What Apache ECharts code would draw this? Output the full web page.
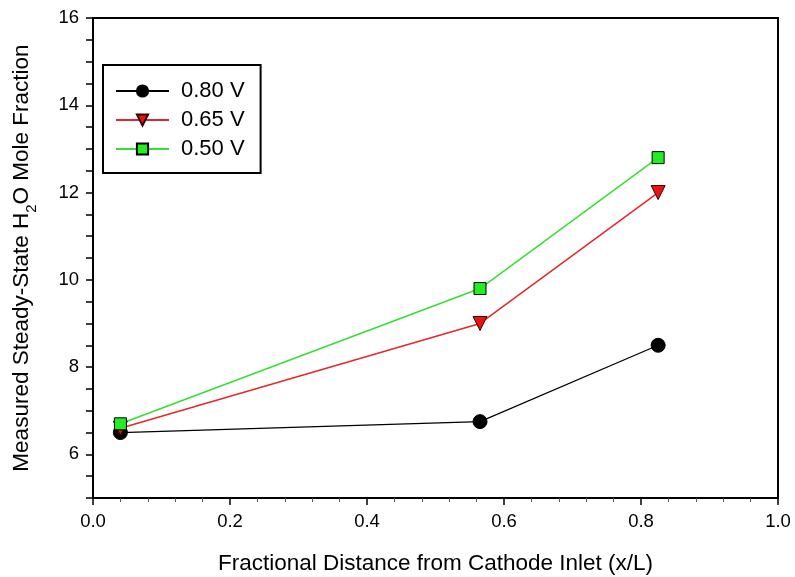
<!DOCTYPE html>
<html>
<head>
<meta charset="utf-8">
<script src="https://cdn.jsdelivr.net/npm/echarts@6/dist/echarts.min.js"></script>
<style>
  html, body { margin: 0; padding: 0; background: #fff; }
  #chart { width: 795px; height: 577px; }
</style>
</head>
<body>
<div id="chart"></div>
<script>
// positions along the cathode (x/L)
var xPos = [0.04, 0.565, 0.825];
// H2O mole fraction per cell voltage
var v080 = [6.5, 6.75, 8.5];
var v065 = [6.6, 9.0, 12.0];
var v050 = [6.7, 9.8, 12.8];
var seriesNames = ['0.80 V', '0.65 V', '0.50 V'];

function pairs(ys) {
    return ys.map(function (y, i) { return [xPos[i], y]; });
}

var font = 'Liberation Sans, Arial, sans-serif';
var chart = echarts.init(document.getElementById('chart'));

var option = {
    animation: false,
    backgroundColor: '#fff',
    grid: {
        left: 93,
        right: 17,
        top: 18,
        bottom: 79,
        outerBoundsMode: 'none',
        show: true,
        borderColor: '#000',
        borderWidth: 2
    },
    legend: {
        left: 103,
        top: 65,
        orient: 'vertical',
        padding: [15, 16, 13, 12],
        borderColor: '#000',
        borderWidth: 2,
        itemWidth: 53,
        itemHeight: 14,
        itemGap: 7,
        textStyle: {
            fontFamily: font,
            fontSize: 22,
            color: '#000',
            padding: [0, 0, 0, 7]
        },
        data: seriesNames
    },
    xAxis: {
        type: 'value',
        min: 0,
        max: 1,
        interval: 0.2,
        name: 'Fractional Distance from Cathode Inlet (x/L)',
        nameLocation: 'middle',
        nameGap: 54,
        nameTextStyle: { fontFamily: font, fontSize: 22.5, color: '#000' },
        axisLine: { onZero: false, lineStyle: { color: '#000', width: 2 } },
        axisTick: { show: true, inside: false, length: 7, lineStyle: { color: '#000', width: 1.5 } },
        minorTick: { show: true, splitNumber: 5, length: 4, lineStyle: { color: '#555', width: 1 } },
        splitLine: { show: false },
        axisLabel: {
            fontFamily: font, fontSize: 18.5, color: '#000', margin: 14,
            formatter: function (v) { return v.toFixed(1); }
        }
    },
    yAxis: {
        type: 'value',
        min: 5,
        max: 16,
        interval: 1,
        name: '{t|Measured Steady-State H}{s|2}{t|O Mole Fraction}',
        nameLocation: 'middle',
        nameGap: 60,
        nameTextStyle: {
            fontFamily: font, fontSize: 22.5, color: '#000',
            rich: {
                t: { fontFamily: font, fontSize: 22.5, color: '#000', lineHeight: 28, verticalAlign: 'bottom' },
                s: { fontFamily: font, fontSize: 15, color: '#000', lineHeight: 28, verticalAlign: 'bottom', padding: [0, 0, -6, 0] }
            }
        },
        axisLine: { onZero: false, lineStyle: { color: '#000', width: 2 } },
        axisTick: { show: true, inside: false, length: 7, lineStyle: { color: '#000', width: 1.5 } },
        minorTick: { show: true, splitNumber: 2, length: 7, lineStyle: { color: '#000', width: 1.5 } },
        splitLine: { show: false },
        axisLabel: {
            fontFamily: font, fontSize: 18.5, color: '#000', margin: 14,
            formatter: function (v) { return v % 2 === 0 ? String(v) : ''; }
        }
    },
    series: [
        {
            name: seriesNames[0],
            type: 'line',
            data: pairs(v080),
            symbol: 'circle',
            symbolSize: 14,
            lineStyle: { color: '#000', width: 1.2 },
            itemStyle: { color: '#000', borderColor: '#000', borderWidth: 1 }
        },
        {
            name: seriesNames[1],
            type: 'line',
            data: pairs(v065),
            symbol: 'triangle',
            symbolRotate: 180,
            symbolSize: 14,
            lineStyle: { color: '#e8262a', width: 1.5 },
            itemStyle: { color: '#ee1111', borderColor: '#300', borderWidth: 1 }
        },
        {
            name: seriesNames[2],
            type: 'line',
            data: pairs(v050),
            symbol: 'rect',
            symbolSize: 12,
            lineStyle: { color: '#33e033', width: 1.5 },
            itemStyle: { color: '#22ee22', borderColor: '#000', borderWidth: 1 }
        }
    ]
};

chart.setOption(option);
</script>
</body>
</html>
